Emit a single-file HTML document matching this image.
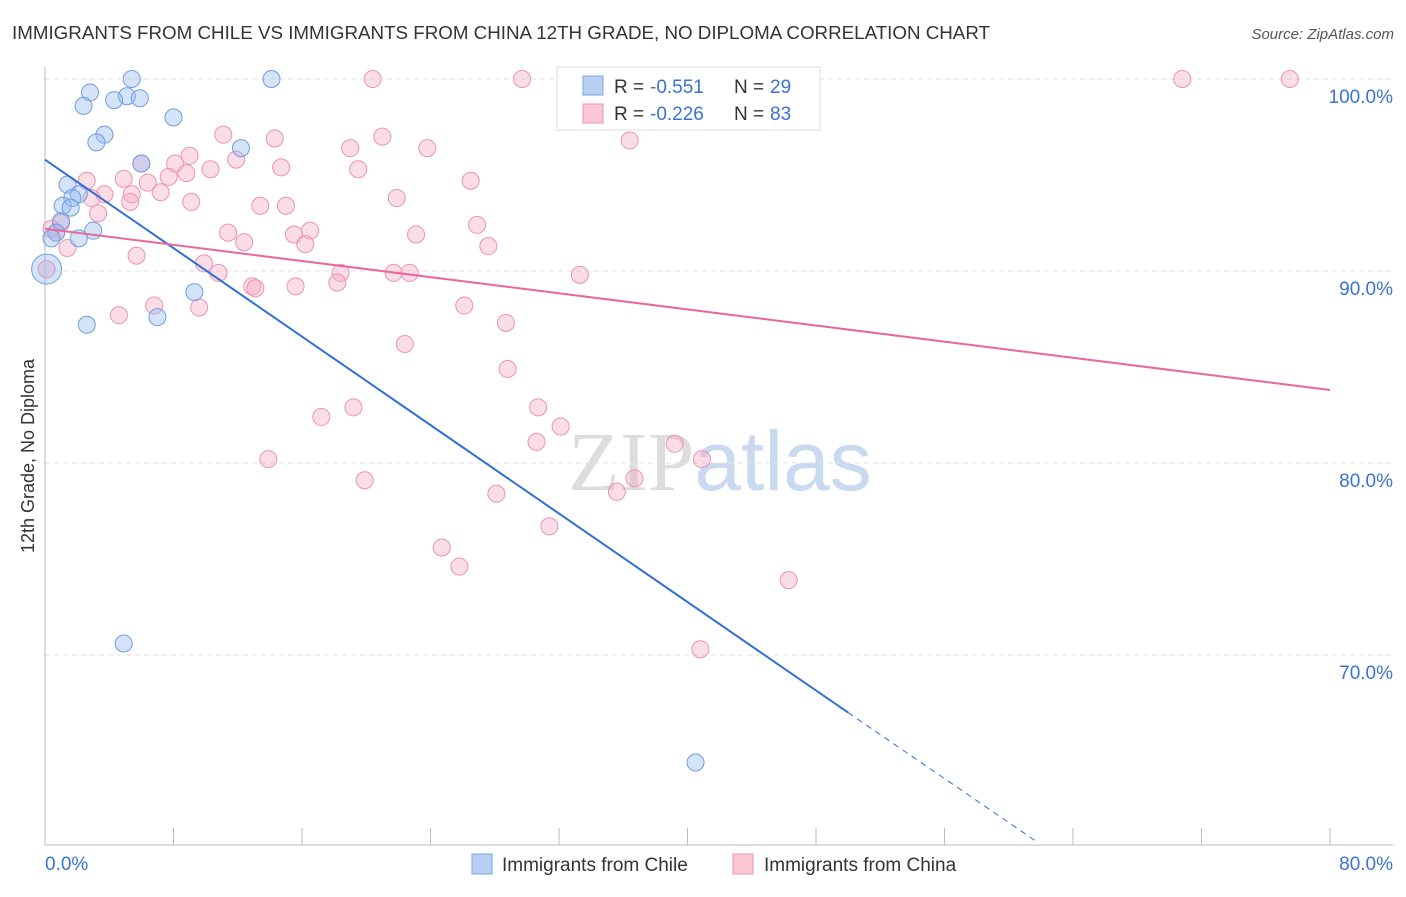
<!DOCTYPE html>
<html><head><meta charset="utf-8"><style>
body{margin:0;background:#fff;font-family:"Liberation Sans",sans-serif}
svg text{font-family:"Liberation Sans",sans-serif}
</style></head><body>
<svg id="chart" width="1406" height="892" xmlns="http://www.w3.org/2000/svg">
<text x="12" y="39" font-size="18" fill="#333" textLength="978" lengthAdjust="spacingAndGlyphs">IMMIGRANTS FROM CHILE VS IMMIGRANTS FROM CHINA 12TH GRADE, NO DIPLOMA CORRELATION CHART</text>
<text x="1394" y="39" font-size="15" fill="#555" text-anchor="end" font-style="italic">Source: ZipAtlas.com</text>
<text x="720" y="490" font-size="84" text-anchor="middle"><tspan fill="#ddd" font-family="Liberation Serif">ZIP</tspan><tspan fill="#c9d9f0">atlas</tspan></text>
<g id="grid"></g>
<g id="axes"></g>
<text transform="translate(34,456) rotate(-90)" font-size="18" fill="#333" text-anchor="middle">12th Grade, No Diploma</text>
<g id="pts"></g>
<g id="lines"></g>
<g>
<rect x="557" y="67" width="263" height="63" fill="#fff" stroke="#ddd"/>
<rect x="583" y="76" width="20" height="19" fill="#b8d0f4" stroke="#7aa6e6"/>
<rect x="583" y="104" width="20" height="19" fill="#f8c6d5" stroke="#ec93b1"/>
<text x="614" y="93" font-size="19" fill="#333">R =</text><text x="650" y="93" font-size="19" fill="#3a74d0">-0.551</text><text x="734" y="93" font-size="19" fill="#333">N =</text><text x="770" y="93" font-size="19" fill="#3a74d0">29</text>
<text x="614" y="120" font-size="19" fill="#333">R =</text><text x="650" y="120" font-size="19" fill="#3a74d0">-0.226</text><text x="734" y="120" font-size="19" fill="#333">N =</text><text x="770" y="120" font-size="19" fill="#3a74d0">83</text>
</g>
<g>
<rect x="472" y="854" width="20" height="20" fill="#b8d0f4" stroke="#7aa6e6"/>
<text x="502" y="871" font-size="19" fill="#333">Immigrants from Chile</text>
<rect x="733" y="854" width="20" height="20" fill="#f8c6d5" stroke="#ec93b1"/>
<text x="764" y="871" font-size="19" fill="#333">Immigrants from China</text>
</g>
</svg>
<script>
const yTicks=[100,90,80,70];
const xTickLabels=["0.0%","80.0%"];
const chileX=[5.4,14.1,2.8,5.1,5.9,4.3,2.4,8.0,3.7,3.2,12.2,6.0,1.4,2.1,1.7,1.1,1.6,1.0,0.7,3.0,2.1,0.4,0.1,9.3,7.0,2.6,4.9,40.5,34.4];
const chileY=[100,100,99.3,99.1,99.0,98.9,98.6,98.0,97.1,96.7,96.4,95.6,94.5,94.0,93.8,93.4,93.3,92.6,92.0,92.1,91.7,91.7,90.1,88.9,87.6,87.2,70.6,64.4,99.4];
const chinaX=[20.4,29.7,32.9,70.8,77.5,11.1,14.3,21.0,23.8,19.0,36.4,6.0,8.1,11.9,14.7,10.3,19.5,8.8,7.7,4.9,2.6,6.4,26.5,3.7,5.4,2.9,7.2,9.1,5.3,13.4,15.0,21.9,3.3,26.9,11.4,16.5,15.5,23.1,1.0,0.7,0.4,12.4,16.2,27.6,1.4,5.7,9.9,10.8,18.4,21.7,22.7,33.3,0.1,18.2,12.9,13.1,15.6,6.8,9.6,26.1,4.6,28.7,22.4,28.8,17.2,19.2,30.7,30.6,32.1,39.2,13.9,19.9,36.7,28.1,35.6,31.4,24.7,25.8,46.3,40.8,34.2,40.9,9.0];
const chinaY=[100,100,100,100,100,97.1,96.9,97.0,96.4,96.4,96.8,95.6,95.6,95.8,95.4,95.3,95.3,95.1,94.9,94.8,94.7,94.6,94.7,94.0,94.0,93.8,94.1,93.6,93.6,93.4,93.4,93.8,93.0,92.4,92.0,92.1,91.9,91.9,92.5,92.0,92.2,91.5,91.4,91.3,91.2,90.8,90.4,89.9,89.9,89.9,89.9,89.8,90.1,89.4,89.2,89.1,89.2,88.2,88.1,88.2,87.7,87.3,86.2,84.9,82.4,82.9,82.9,81.1,81.9,81.0,80.2,79.1,79.2,78.4,78.5,76.7,75.6,74.6,73.9,70.3,99.6,80.2,96.0];
const chileFit=[[0,95.8],[50,67.0],[61.7,60.3]];
const chinaFit=[[0,92.2],[80,83.8]];
const X=v=>45+v/80*1285, Y=v=>79+(100-v)*19.2;
const NS="http://www.w3.org/2000/svg";
function mk(t,a,p){const e=document.createElementNS(NS,t);for(const k in a)e.setAttribute(k,a[k]);p.appendChild(e);return e;}
const grid=document.getElementById('grid'),axes=document.getElementById('axes'),pts=document.getElementById('pts'),lines=document.getElementById('lines');
yTicks.forEach(v=>{const l=mk('line',{x1:45,x2:1393,y1:Y(v),y2:Y(v),stroke:'#e2e2e2','stroke-dasharray':'5,4'},grid);


const t=mk('text',{x:1393,y:Y(v)+24,'font-size':19,fill:'#3a74d0','text-anchor':'end'},grid);t.textContent=v.toFixed(1)+'%';

});
mk('line',{x1:45,x2:45,y1:67,y2:845,stroke:'#bbb'},axes);
mk('line',{x1:45,x2:1393,y1:845,y2:845,stroke:'#bbb'},axes);
for(let i=0;i<=10;i++){const l=mk('line',{x1:X(i*8),x2:X(i*8),y1:828,y2:845,stroke:'#bbb'},axes);

}
const t0=mk('text',{x:45,y:870,'font-size':19,fill:'#3a74d0'},axes);t0.textContent=xTickLabels[0];


const t1=mk('text',{x:1393,y:870,'font-size':19,fill:'#3a74d0','text-anchor':'end'},axes);t1.textContent=xTickLabels[1];


chinaX.forEach((x,i)=>{const c=mk('circle',{cx:X(x),cy:Y(chinaY[i]),r:8.5,fill:'rgba(244,170,195,0.4)',stroke:'#ec93b1','stroke-width':1},pts);

});
chileX.forEach((x,i)=>{const c=mk('circle',{cx:X(x),cy:Y(chileY[i]),r:i==22?15:8.5,fill:'rgba(150,185,240,0.4)',stroke:'#6f9ee0','stroke-width':1},pts);

});
const a=mk('line',{x1:X(chileFit[0][0]),y1:Y(chileFit[0][1]),x2:X(chileFit[1][0]),y2:Y(chileFit[1][1]),stroke:'#2f6fd6','stroke-width':2},lines);


const b=mk('line',{x1:X(chileFit[1][0]),y1:Y(chileFit[1][1]),x2:X(chileFit[2][0]),y2:Y(chileFit[2][1]),stroke:'#2f6fd6','stroke-width':1,'stroke-dasharray':'6,5'},lines);


const c2=mk('line',{x1:X(chinaFit[0][0]),y1:Y(chinaFit[0][1]),x2:X(chinaFit[1][0]),y2:Y(chinaFit[1][1]),stroke:'#e8689a','stroke-width':2},lines);


</script>
</body></html>
